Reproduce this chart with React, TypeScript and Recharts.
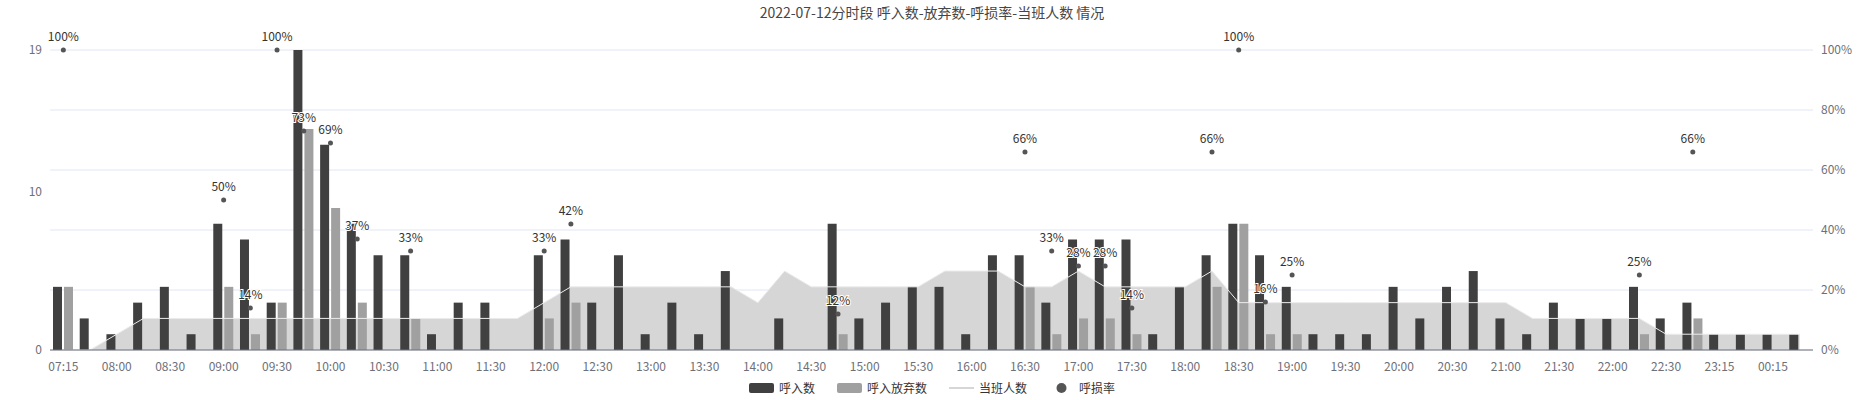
import React from 'react';
import { ComposedChart, Bar, Line, Area, XAxis, YAxis, CartesianGrid, Legend } from 'recharts';

const times = ['07:15','07:45','08:00','08:15','08:30','08:45','09:00','09:15','09:30','09:45','10:00','10:15','10:30','10:45','11:00','11:15','11:30','11:45','12:00','12:15','12:30','12:45','13:00','13:15','13:30','13:45','14:00','14:15','14:30','14:45','15:00','15:15','15:30','15:45','16:00','16:15','16:30','16:45','17:00','17:15','17:30','17:45','18:00','18:15','18:30','18:45','19:00','19:15','19:30','19:45','20:00','20:15','20:30','20:45','21:00','21:15','21:30','21:45','22:00','22:15','22:30','23:00','23:15','23:45','00:15','00:30'];
const calls = [4,2,1,3,4,1,8,7,3,19,13,8,6,6,1,3,3,0,6,7,3,6,1,3,1,5,0,2,0,8,2,3,4,4,1,6,6,3,7,7,7,1,4,6,8,6,4,1,1,1,4,2,4,5,2,1,3,2,2,4,2,3,1,1,1,1];
const abandoned = [4,0,0,0,0,0,4,1,3,14,9,3,0,2,0,0,0,0,2,3,0,0,0,0,0,0,0,0,0,1,0,0,0,0,0,0,4,1,2,2,1,0,0,4,8,1,1,0,0,0,0,0,0,0,0,0,0,0,0,1,0,2,0,0,0,0];
const staff = [0,0,1,2,2,2,2,2,2,2,2,2,2,2,2,2,2,2,3,4,4,4,4,4,4,4,3,5,4,4,4,4,4,5,5,5,4,4,5,4,4,4,4,5,3,3,3,3,3,3,3,3,3,3,3,2,2,2,2,2,1,1,1,1,1,1];
const lossRate: (number | null)[] = [100,null,null,null,null,null,50,14,100,73,69,37,null,33,null,null,null,null,33,42,null,null,null,null,null,null,null,null,null,12,null,null,null,null,null,null,66,33,28,28,14,null,null,66,100,16,25,null,null,null,null,null,null,null,null,null,null,null,null,25,null,66,null,null,null,null];

const data = times.map((t, i) => ({ time: t, calls: calls[i], abandoned: abandoned[i], staff: staff[i], rate: lossRate[i] }));

const font = '"Noto Sans CJK SC", "Noto Sans", sans-serif';

const RateLabel = (props: any) => {
  const { x, y, value } = props;
  if (value == null) return null;
  return (
    <text x={x} y={y - 9} textAnchor="middle" fontSize={12} fill="#333" fontFamily={font}
      stroke="#fff" strokeWidth={2} paintOrder="stroke">{value + '%'}</text>
  );
};

const RateDot = (props: any) => {
  const { cx, cy, value } = props;
  if (value == null || cy == null) return null;
  return <circle cx={cx} cy={cy} r={2.5} fill="#555" />;
};

const legendItems = [
  { name: '呼入数', type: 'rect', color: '#404040' },
  { name: '呼入放弃数', type: 'rect', color: '#a0a0a0' },
  { name: '当班人数', type: 'line', color: '#c8c8c8' },
  { name: '呼损率', type: 'circle', color: '#555' },
];

const LegendContent = () => (
  <div style={{ display: 'flex', justifyContent: 'center', gap: 22, fontFamily: font, fontSize: 12, color: '#333' }}>
    {legendItems.map((it) => (
      <div key={it.name} style={{ display: 'flex', alignItems: 'center', gap: 5 }}>
        <svg width={25} height={14}>
          {it.type === 'rect' && <rect x={0} y={2} width={25} height={10} rx={2} fill={it.color} />}
          {it.type === 'line' && <line x1={0} y1={7} x2={25} y2={7} stroke={it.color} strokeWidth={1.5} />}
          {it.type === 'circle' && <circle cx={12.5} cy={7} r={5} fill={it.color} />}
        </svg>
        <span>{it.name}</span>
      </div>
    ))}
  </div>
);

export default function App() {
  return (
    <div style={{ position: 'absolute', left: 0, top: 0, width: 1864, height: 400, background: '#fff' }}>
      <div style={{ position: 'absolute', top: 2, width: 1864, textAlign: 'center', fontFamily: font, fontSize: 14, color: '#464646' }}>
        2022-07-12分时段 呼入数-放弃数-呼损率-当班人数 情况
      </div>
      <ComposedChart width={1864} height={400} data={data} margin={{ top: 50, right: 0, bottom: 13, left: 0 }} barSize={9} barGap={2}>
        <CartesianGrid yAxisId="right" vertical={false} stroke="#e0e6f1" />
        <XAxis dataKey="time" interval={1} tickLine={false} axisLine={{ stroke: '#6e7079' }} height={20}
          tick={{ fontSize: 12, fill: '#6e7079', fontFamily: font }} tickMargin={6} />
        <YAxis yAxisId="left" domain={[0, 19]} ticks={[0, 10, 19]} axisLine={false} tickLine={false} width={50}
          tick={{ fontSize: 12, fill: '#6e7079', fontFamily: font }} interval={0} />
        <YAxis yAxisId="right" orientation="right" domain={[0, 100]} ticks={[0, 20, 40, 60, 80, 100]} axisLine={false} tickLine={false} width={51}
          tickFormatter={(v: number) => v + '%'} tick={{ fontSize: 12, fill: '#6e7079', fontFamily: font }} interval={0} />
        <Area yAxisId="left" dataKey="staff" type="linear" stroke="none" fill="#d6d6d6" fillOpacity={1} isAnimationActive={false} legendType="none" />
        <Bar yAxisId="left" dataKey="calls" fill="#404040" isAnimationActive={false} />
        <Bar yAxisId="left" dataKey="abandoned" fill="#a0a0a0" isAnimationActive={false} />
        <Line yAxisId="left" dataKey="staff" type="linear" stroke="#ececec" strokeWidth={1} dot={false} isAnimationActive={false} />
        <Line yAxisId="right" dataKey="rate" stroke="none" dot={<RateDot />} activeDot={false} label={<RateLabel />} isAnimationActive={false} connectNulls={false} />
        <Legend verticalAlign="bottom" content={<LegendContent />} wrapperStyle={{ bottom: 4 }} />
      </ComposedChart>
    </div>
  );
}
